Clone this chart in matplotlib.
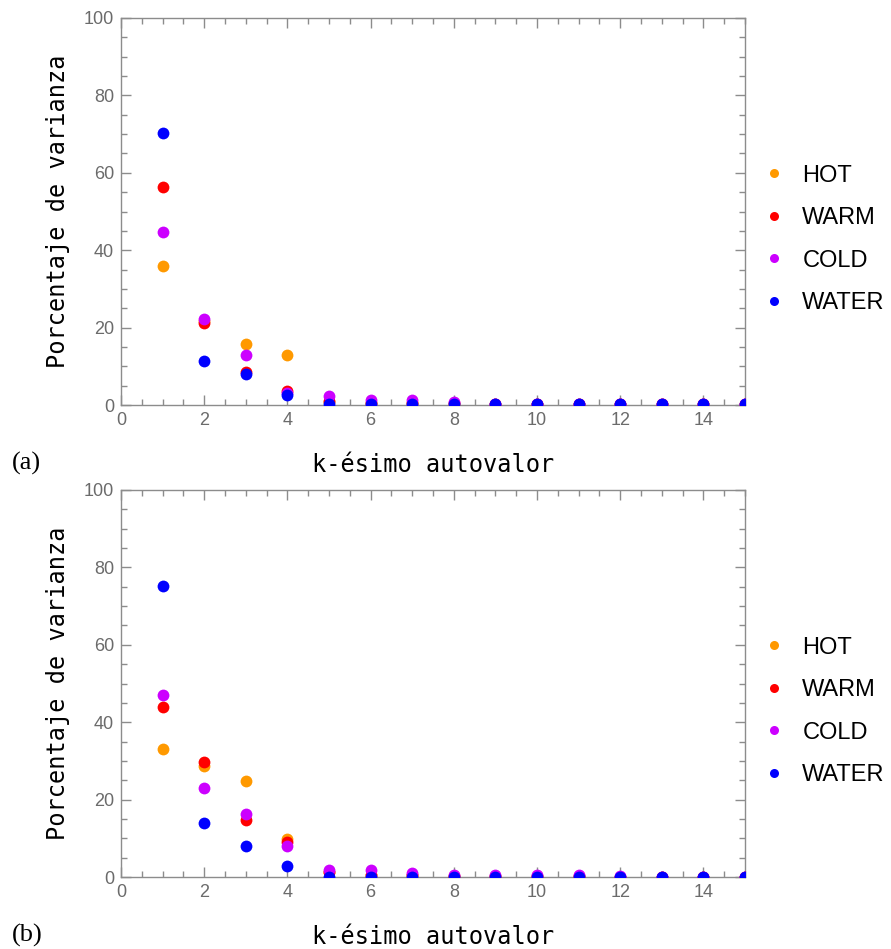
import matplotlib

matplotlib.use("Agg")
import matplotlib.pyplot as plt
from matplotlib.lines import Line2D
from matplotlib.ticker import MultipleLocator

# -- Data ----------------------------------------------------------------------
K = list(range(1, 16))
SERIES = ["HOT", "WARM", "COLD", "WATER"]
COLORS = {"HOT": "#FF9900", "WARM": "#FF0000", "COLD": "#CC00FF", "WATER": "#0000FF"}

# (a) percentage of variance per eigenvalue
HOT_A = [36.0, 21.7, 15.7, 12.8, 0.8, 0.4, 0.4, 0.3, 0.3, 0.3, 0.3, 0.3, 0.3, 0.3, 0.3]
WARM_A = [56.3, 21.3, 8.6, 3.7, 1.0, 0.6, 0.6, 0.4, 0.3, 0.3, 0.3, 0.3, 0.3, 0.3, 0.3]
COLD_A = [44.7, 22.2, 12.8, 3.2, 2.3, 1.4, 1.4, 0.8, 0.3, 0.3, 0.3, 0.3, 0.3, 0.3, 0.3]
WATER_A = [70.4, 11.4, 7.9, 2.6, 0.3, 0.3, 0.3, 0.3, 0.3, 0.3, 0.3, 0.3, 0.3, 0.3, 0.3]

# (b)
HOT_B = [33.0, 28.7, 24.9, 9.7, 1.2, 0.5, 0.4, 0.3, 0.3, 0.2, 0.2, 0.1, 0.0, 0.0, 0.0]
WARM_B = [44.0, 29.8, 14.7, 9.1, 1.2, 0.5, 0.4, 0.3, 0.3, 0.2, 0.2, 0.1, 0.0, 0.0, 0.0]
COLD_B = [46.9, 22.9, 16.4, 8.1, 1.9, 1.9, 1.0, 0.6, 0.5, 0.5, 0.5, 0.2, 0.0, 0.0, 0.0]
WATER_B = [75.2, 13.9, 8.1, 2.9, 0.0, 0.0, 0.0, 0.0, 0.0, 0.0, 0.0, 0.0, 0.0, 0.0, 0.0]

PANELS = [
    ("(a)", {"HOT": HOT_A, "WARM": WARM_A, "COLD": COLD_A, "WATER": WATER_A}),
    ("(b)", {"HOT": HOT_B, "WARM": WARM_B, "COLD": COLD_B, "WATER": WATER_B}),
]

FRAME = "#8c8c8c"
TICKTXT = "#6b6b6b"

fig = plt.figure(figsize=(8.91, 9.49), dpi=100)
W, H = 891, 949
boxes = [(121, 18, 745, 405), (121, 490, 745, 877)]

for (tag, data), (x0, y0, x1, y1) in zip(PANELS, boxes):
    ax = fig.add_axes([x0 / W, 1 - y1 / H, (x1 - x0) / W, (y1 - y0) / H])
    for name in SERIES:
        ax.plot(K, data[name], "o", color=COLORS[name], markersize=8.5,
                markeredgewidth=0, zorder=3)

    ax.set_xlim(0, 15)
    ax.set_ylim(0, 100)
    ax.xaxis.set_major_locator(MultipleLocator(2))
    ax.xaxis.set_minor_locator(MultipleLocator(0.5))
    ax.yaxis.set_major_locator(MultipleLocator(20))
    ax.yaxis.set_minor_locator(MultipleLocator(5))
    ax.tick_params(which="both", direction="in", top=True, right=True,
                   color=FRAME, width=1.0)
    ax.tick_params(which="major", length=7, labelsize=13, labelcolor=TICKTXT, pad=5)
    ax.tick_params(which="minor", length=4)
    for lbl in ax.get_xticklabels() + ax.get_yticklabels():
        lbl.set_family("Liberation Sans")
    for sp in ax.spines.values():
        sp.set_color(FRAME)
        sp.set_linewidth(1.0)

    ax.set_xlabel("k-ésimo autovalor", family="DejaVu Sans Mono", fontsize=17,
                  labelpad=17)
    ax.set_ylabel("Porcentaje de varianza", family="DejaVu Sans Mono", fontsize=17,
                  labelpad=10)

    handles = [Line2D([], [], marker="o", linestyle="", color=COLORS[n],
                      markersize=6.5, markeredgewidth=0) for n in SERIES]
    ax.legend(handles, SERIES, loc="center left", bbox_to_anchor=(1.02, 0.428),
              frameon=False, handlelength=0.6, handletextpad=0.9,
              labelspacing=0.87, borderaxespad=0,
              prop={"family": "Liberation Sans", "size": 17})

    fig.text(12 / W, 1 - (y1 + 58) / H, tag, family="Liberation Serif",
             fontsize=19, ha="left", va="center")

fig.savefig("out.png", dpi=100)
